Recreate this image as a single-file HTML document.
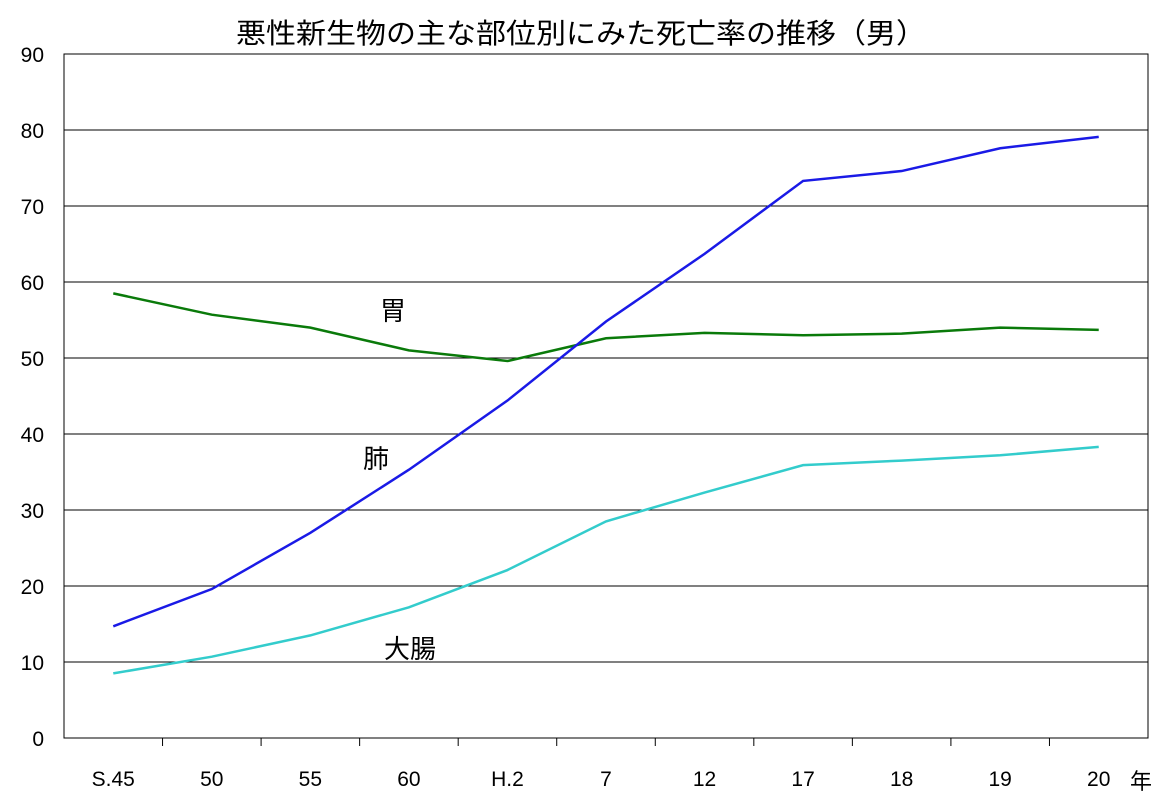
<!DOCTYPE html>
<html><head><meta charset="utf-8"><style>
body{margin:0;background:#fff;}
svg text{font-family:"Liberation Sans","Noto Sans CJK JP",sans-serif;fill:#000;}
</style></head><body>
<svg id="chart" width="1160" height="800" xmlns="http://www.w3.org/2000/svg">
<text x="236" y="43" font-size="28" textLength="690" lengthAdjust="spacingAndGlyphs">悪性新生物の主な部位別にみた死亡率の推移（男）</text>
<g id="grid"></g><g id="axes"></g><g id="series"></g>
<text x="393" y="320" font-size="26" text-anchor="middle">胃</text>
<text x="376" y="468" font-size="26" text-anchor="middle">肺</text>
<text x="410" y="658" font-size="26" text-anchor="middle">大腸</text>
<text x="1141" y="789" font-size="22" text-anchor="middle">年</text>
</svg>
<script>
const categories=["S.45","50","55","60","H.2","7","12","17","18","19","20"];
const lung=[14.7,19.6,27.0,35.3,44.4,54.8,63.7,73.3,74.6,77.6,79.1];
const stomach=[58.5,55.7,54.0,51.0,49.6,52.6,53.3,53.0,53.2,54.0,53.7];
const colon=[8.5,10.7,13.5,17.2,22.1,28.5,32.3,35.9,36.5,37.2,38.3];
const yTicks=[0,10,20,30,40,50,60,70,80,90];
const NS="http://www.w3.org/2000/svg";
const L=64,R=1148,T=54,B=738,yMax=90;
const bw=(R-L)/categories.length;
const xs=i=>L+bw*(i+0.5);
const ys=v=>B-(v/yMax)*(B-T);
function mk(tag,attrs,parent){const e=document.createElementNS(NS,tag);for(const k in attrs)e.setAttribute(k,attrs[k]);parent.appendChild(e);return e;}
const grid=document.getElementById('grid'),axes=document.getElementById('axes'),ser=document.getElementById('series');
yTicks.forEach(t=>{
  if(t>0){const g=mk('line',{x1:L,x2:R,y1:ys(t),y2:ys(t),stroke:'#000','stroke-width':1},grid);
  
  }
  const tx=mk('text',{x:44,y:ys(t)+8,'font-size':21,'text-anchor':'end'},axes);tx.textContent=t;
  
  
});
const box=mk('rect',{x:L,y:T,width:R-L,height:B-T,fill:'none',stroke:'#000','stroke-width':1},axes);


for(let i=1;i<categories.length;i++){const tk=mk('line',{x1:L+bw*i,x2:L+bw*i,y1:B,y2:B+8,stroke:'#000'},axes);

}
categories.forEach((c,i)=>{const tx=mk('text',{x:xs(i),y:786,'font-size':21,'text-anchor':'middle'},axes);tx.textContent=c;

});
function line(d,color,name){const p=mk('polyline',{points:d.map((v,i)=>xs(i)+','+ys(v)).join(' '),fill:'none',stroke:color,'stroke-width':2.5},ser);

}
line(stomach,'#0a7a0a','series-stomach');
line(colon,'#33cccc','series-colon');
line(lung,'#1a1ae6','series-lung');
</script>
</body></html>
